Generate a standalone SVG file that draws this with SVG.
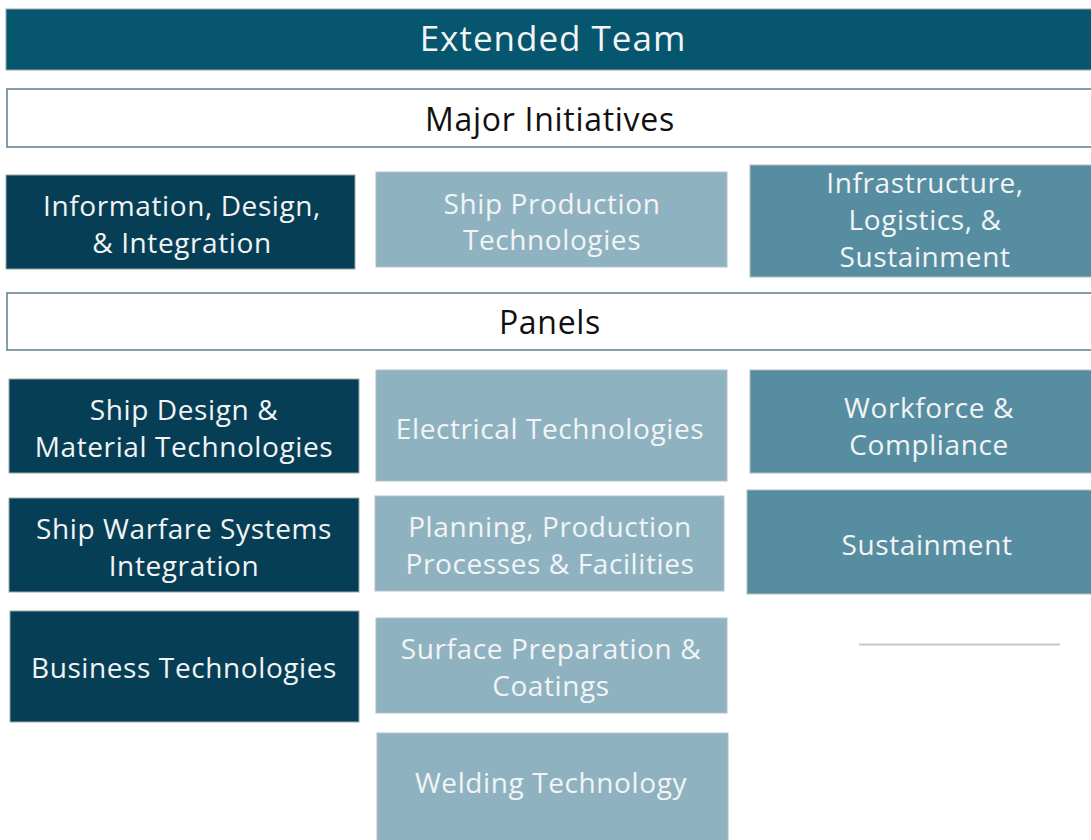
<svg xmlns="http://www.w3.org/2000/svg" width="1091" height="840" viewBox="0 0 1091 840">
<style>
.t{font-family:"Open Sans","Noto Sans",sans-serif;text-anchor:middle}
.w{fill:#f2f4f5;font-size:28px;letter-spacing:0.6px}
.h{fill:#111;font-size:32px;letter-spacing:0.7px}
.dark{fill:#063f55;stroke:#9aa6ab;stroke-width:1}
.light{fill:#8fb2c1;stroke:#b4c0c5;stroke-width:1}
.mid{fill:#578da0;stroke:#b0bcc1;stroke-width:1}
.band{fill:#fff;stroke:#5a7f8a;stroke-width:1.5}
</style>
<rect width="1091" height="840" fill="#fff"/>
<g id="extended-team">
<rect x="6" y="9" width="1090" height="61" fill="#06566f" stroke="#9aa6ab" stroke-width="1"/>
<text class="t" x="553" y="51" font-size="35" letter-spacing="1" fill="#f2f4f5">Extended Team</text>
</g>
<g id="major-initiatives">
<rect class="band" x="7" y="89" width="1090" height="58"/>
<text class="t h" x="550" y="131">Major Initiatives</text>
</g>
<g id="info-design">
<rect class="dark" x="6" y="175" width="349" height="94"/>
<text class="t w" x="182" y="216">Information, Design,</text>
<text class="t w" x="182" y="253">&amp; Integration</text>
</g>
<g id="ship-production">
<rect class="light" x="376" y="172" width="351" height="95"/>
<text class="t w" x="552" y="214">Ship Production</text>
<text class="t w" x="552" y="250">Technologies</text>
</g>
<g id="infrastructure">
<rect class="mid" x="750" y="165" width="346" height="112"/>
<text class="t w" x="925" y="193">Infrastructure,</text>
<text class="t w" x="925" y="230">Logistics, &amp;</text>
<text class="t w" x="925" y="267">Sustainment</text>
</g>
<g id="panels">
<rect class="band" x="7" y="293" width="1090" height="57"/>
<text class="t h" x="550" y="334">Panels</text>
</g>
<g id="ship-design">
<rect class="dark" x="9" y="379" width="350" height="94"/>
<text class="t w" x="184" y="420">Ship Design &amp;</text>
<text class="t w" x="184" y="457">Material Technologies</text>
</g>
<g id="electrical">
<rect class="light" x="376" y="370" width="351" height="111"/>
<text class="t w" x="550" y="439">Electrical Technologies</text>
</g>
<g id="workforce">
<rect class="mid" x="750" y="370" width="346" height="103"/>
<text class="t w" x="929" y="418">Workforce &amp;</text>
<text class="t w" x="929" y="455">Compliance</text>
</g>
<g id="ship-warfare">
<rect class="dark" x="9" y="498" width="350" height="94"/>
<text class="t w" x="184" y="539">Ship Warfare Systems</text>
<text class="t w" x="184" y="576">Integration</text>
</g>
<g id="planning">
<rect class="light" x="375" y="496" width="349" height="95"/>
<text class="t w" x="550" y="537">Planning, Production</text>
<text class="t w" x="550" y="574">Processes &amp; Facilities</text>
</g>
<g id="sustainment">
<rect class="mid" x="747" y="490" width="349" height="104"/>
<text class="t w" x="927" y="555">Sustainment</text>
</g>
<g id="business">
<rect class="dark" x="10" y="611" width="349" height="111"/>
<text class="t w" x="184" y="678">Business Technologies</text>
</g>
<g id="surface">
<rect class="light" x="376" y="618" width="351" height="95"/>
<text class="t w" x="551" y="659">Surface Preparation &amp;</text>
<text class="t w" x="551" y="696">Coatings</text>
</g>
<g id="welding">
<rect class="light" x="377" y="733" width="351" height="112"/>
<text class="t w" x="551" y="793">Welding Technology</text>
</g>
<g id="connectors">
<line x1="859" y1="644.5" x2="1060" y2="644.5" stroke="#c8c8c8" stroke-width="2"/>
</g>
</svg>
